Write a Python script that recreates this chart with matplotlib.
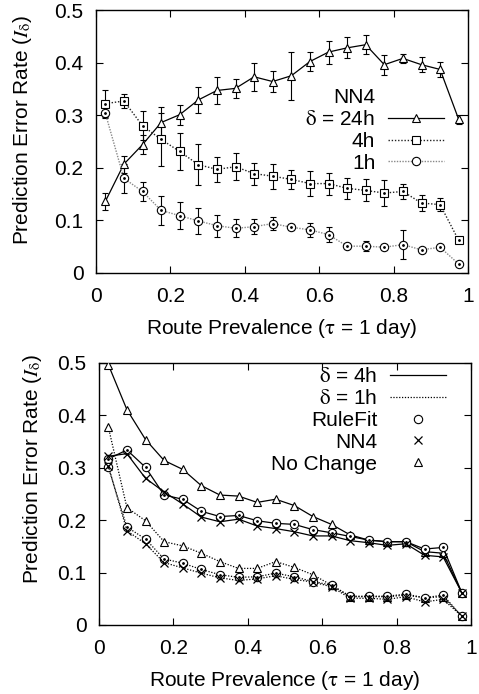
import matplotlib
matplotlib.use("Agg")
import matplotlib.pyplot as plt
from matplotlib.lines import Line2D
from matplotlib.ticker import FuncFormatter
import numpy as np

plt.rcParams['font.family'] = ['Liberation Sans', 'DejaVu Sans']
plt.rcParams['mathtext.fontset'] = 'stix'
FS = 15
plt.rcParams['font.size'] = FS

# ---------------- data ----------------
prevalence = [0.025, 0.075, 0.125, 0.175, 0.225, 0.275, 0.325, 0.375, 0.425, 0.475,
              0.525, 0.575, 0.625, 0.675, 0.725, 0.775, 0.825, 0.875, 0.925, 0.975]

# Top panel: NN4 with error bars
nn4_24h = [0.136, 0.207, 0.244, 0.286, 0.301, 0.329, 0.347, 0.351, 0.373, 0.364,
           0.375, 0.402, 0.420, 0.428, 0.434, 0.396, 0.408, 0.396, 0.387, 0.292]
nn4_24h_err = [0.016, 0.016, 0.018, 0.030, 0.019, 0.024, 0.025, 0.018, 0.027, 0.020,
               0.046, 0.018, 0.022, 0.020, 0.018, 0.019, 0.009, 0.014, 0.014, 0.009]
nn4_4h = [0.322, 0.327, 0.280, 0.254, 0.231, 0.206, 0.197, 0.202, 0.189, 0.184,
          0.178, 0.170, 0.170, 0.161, 0.157, 0.152, 0.155, 0.133, 0.130, 0.062]
nn4_4h_err = [0.025, 0.014, 0.028, 0.050, 0.035, 0.039, 0.024, 0.026, 0.021, 0.024,
              0.018, 0.023, 0.021, 0.020, 0.021, 0.025, 0.015, 0.016, 0.012, 0.005]
nn4_1h = [0.304, 0.180, 0.155, 0.119, 0.109, 0.099, 0.090, 0.085, 0.088, 0.094,
          0.087, 0.082, 0.073, 0.051, 0.051, 0.049, 0.054, 0.044, 0.049, 0.017]
nn4_1h_err = [0.010, 0.028, 0.018, 0.027, 0.026, 0.025, 0.021, 0.017, 0.014, 0.013,
              0.006, 0.014, 0.014, 0.003, 0.009, 0.006, 0.027, 0.004, 0.003, 0.003]

# Bottom panel: methods comparison
rulefit_4h = [0.317, 0.334, 0.301, 0.248, 0.240, 0.217, 0.207, 0.209, 0.199, 0.194,
              0.192, 0.182, 0.176, 0.169, 0.162, 0.159, 0.159, 0.145, 0.148, 0.062]
nochange_4h = [0.497, 0.411, 0.354, 0.314, 0.297, 0.266, 0.248, 0.246, 0.234, 0.240,
               0.228, 0.207, 0.192, 0.172, 0.162, 0.159, 0.159, 0.140, 0.137, 0.062]
rulefit_1h = [0.301, 0.187, 0.164, 0.126, 0.118, 0.106, 0.096, 0.091, 0.092, 0.099,
              0.092, 0.083, 0.076, 0.055, 0.055, 0.055, 0.059, 0.052, 0.057, 0.017]
nochange_1h = [0.378, 0.224, 0.199, 0.159, 0.151, 0.137, 0.121, 0.108, 0.108, 0.121,
               0.110, 0.096, 0.076, 0.054, 0.054, 0.054, 0.057, 0.052, 0.054, 0.017]

x_ticks = [0, 0.2, 0.4, 0.6, 0.8, 1]
y_ticks = [0, 0.1, 0.2, 0.3, 0.4, 0.5]

# ---------------- figure ----------------
W, H = 479, 694
fig = plt.figure(figsize=(W / 100, H / 100), dpi=100)

def px_axes(l, r, t, b):
    return fig.add_axes([l / W, (H - b) / H, (r - l) / W, (b - t) / H])

ax1 = px_axes(96, 468, 10, 273)
ax2 = px_axes(99, 471, 363, 625)

fmt = FuncFormatter(lambda v, p: f"{v:g}")
xlabel = r'Route Prevalence ($\mathrm{\tau}$ = 1 day)'
ylabel = r'Prediction Error Rate ($I_\mathrm{\delta}$)'
DELTA = r'$\mathrm{\delta}$'

for ax in (ax1, ax2):
    ax.set_xlim(0, 1)
    ax.set_ylim(0, 0.5)
    ax.set_xticks(x_ticks)
    ax.set_yticks(y_ticks)
    ax.xaxis.set_major_formatter(fmt)
    ax.yaxis.set_major_formatter(fmt)
    ax.tick_params(direction='in', length=5, width=0.8, top=True, right=True,
                   labelsize=FS)
    ax.tick_params(axis='x', pad=10)
    ax.tick_params(axis='y', pad=9)
    for s in ax.spines.values():
        s.set_linewidth(1.0)
    ax.set_xlabel(xlabel, fontsize=FS)
    ax.set_ylabel(ylabel, fontsize=FS)

ax1.xaxis.set_label_coords(282 / W, (H - 317) / H, transform=fig.transFigure)
ax1.yaxis.set_label_coords(34 / W, (H - 130) / H, transform=fig.transFigure)
ax2.xaxis.set_label_coords(285 / W, (H - 669) / H, transform=fig.transFigure)
ax2.yaxis.set_label_coords(44 / W, (H - 469) / H, transform=fig.transFigure)

x = np.array(prevalence)
ms = 6
dot = dict(marker='.', markersize=2, color='black', linestyle='none', zorder=5)
dotted_dark = (0, (1, 1.3))
dotted_light = (0, (1, 1.0))

# --- top panel ---
for vals, errs in ((nn4_24h, nn4_24h_err), (nn4_4h, nn4_4h_err), (nn4_1h, nn4_1h_err)):
    ax1.errorbar(x, vals, yerr=errs, fmt='none', ecolor='black', elinewidth=0.8,
                 capsize=2.5, capthick=0.8, zorder=3)

l24, = ax1.plot(x, nn4_24h, color='black', lw=0.9, marker='^', ms=ms,
                mfc='white', mec='black', mew=0.8, zorder=4)
l4, = ax1.plot(x, nn4_4h, color='#222222', lw=1.0, ls=dotted_dark, marker='s', ms=ms,
               mfc='white', mec='black', mew=0.8, zorder=4)
l1, = ax1.plot(x, nn4_1h, color='#888888', lw=1.0, ls=dotted_light, marker='o', ms=ms,
               mfc='white', mec='black', mew=0.8, zorder=4)
ax1.plot(x, nn4_4h, **dot)
ax1.plot(x, nn4_1h, **dot)

blank = Line2D([], [], color='none')
ax1.legend([blank, l24, l4, l1], ['NN4', DELTA + ' = 24h', '4h', '1h'],
           loc='upper right', bbox_to_anchor=((444 - 96) / 372, (273 - 88) / 263),
           frameon=False, markerfirst=False, handlelength=2.7, handletextpad=0.6,
           labelspacing=0.14, borderpad=0, borderaxespad=0, fontsize=FS)

# --- bottom panel ---
common = dict(mfc='white', mec='black', mew=0.8, ms=ms, zorder=4)
ax2.plot(x, nochange_4h, color='black', lw=0.9, marker='^', **common)
ax2.plot(x, rulefit_4h, color='black', lw=0.9, marker='o', **common)
ax2.plot(x, nn4_4h, color='black', lw=0.9, marker='x', ms=ms, mec='black', mew=0.9, zorder=4)
ax2.plot(x, nochange_1h, color='black', lw=0.9, ls=dotted_dark, marker='^', **common)
ax2.plot(x, rulefit_1h, color='black', lw=0.9, ls=dotted_dark, marker='o', **common)
ax2.plot(x, nn4_1h, color='black', lw=0.9, ls=dotted_dark, marker='x', ms=ms, mec='black',
         mew=0.9, zorder=4)
ax2.plot(x, rulefit_4h, **dot)
ax2.plot(x, rulefit_1h, **dot)

h4 = Line2D([], [], color='black', lw=0.9)
h1 = Line2D([], [], color='black', lw=0.9, ls=dotted_dark)
hrf = Line2D([], [], color='black', ls='none', marker='o', mfc='white', mec='black', mew=0.8, ms=ms)
hnn = Line2D([], [], color='black', ls='none', marker='x', mec='black', mew=0.9, ms=ms)
hnc = Line2D([], [], color='black', ls='none', marker='^', mfc='white', mec='black', mew=0.8, ms=ms)
ax2.legend([h4, h1, hrf, hnn, hnc],
           [DELTA + ' = 4h', DELTA + ' = 1h', 'RuleFit', 'NN4', 'No Change'],
           loc='upper right', bbox_to_anchor=((446 - 99) / 372, (625 - 367) / 262),
           frameon=False, markerfirst=False, handlelength=2.7, handletextpad=0.6,
           labelspacing=0.14, borderpad=0, borderaxespad=0, fontsize=FS)

fig.savefig('out.png', dpi=100)
